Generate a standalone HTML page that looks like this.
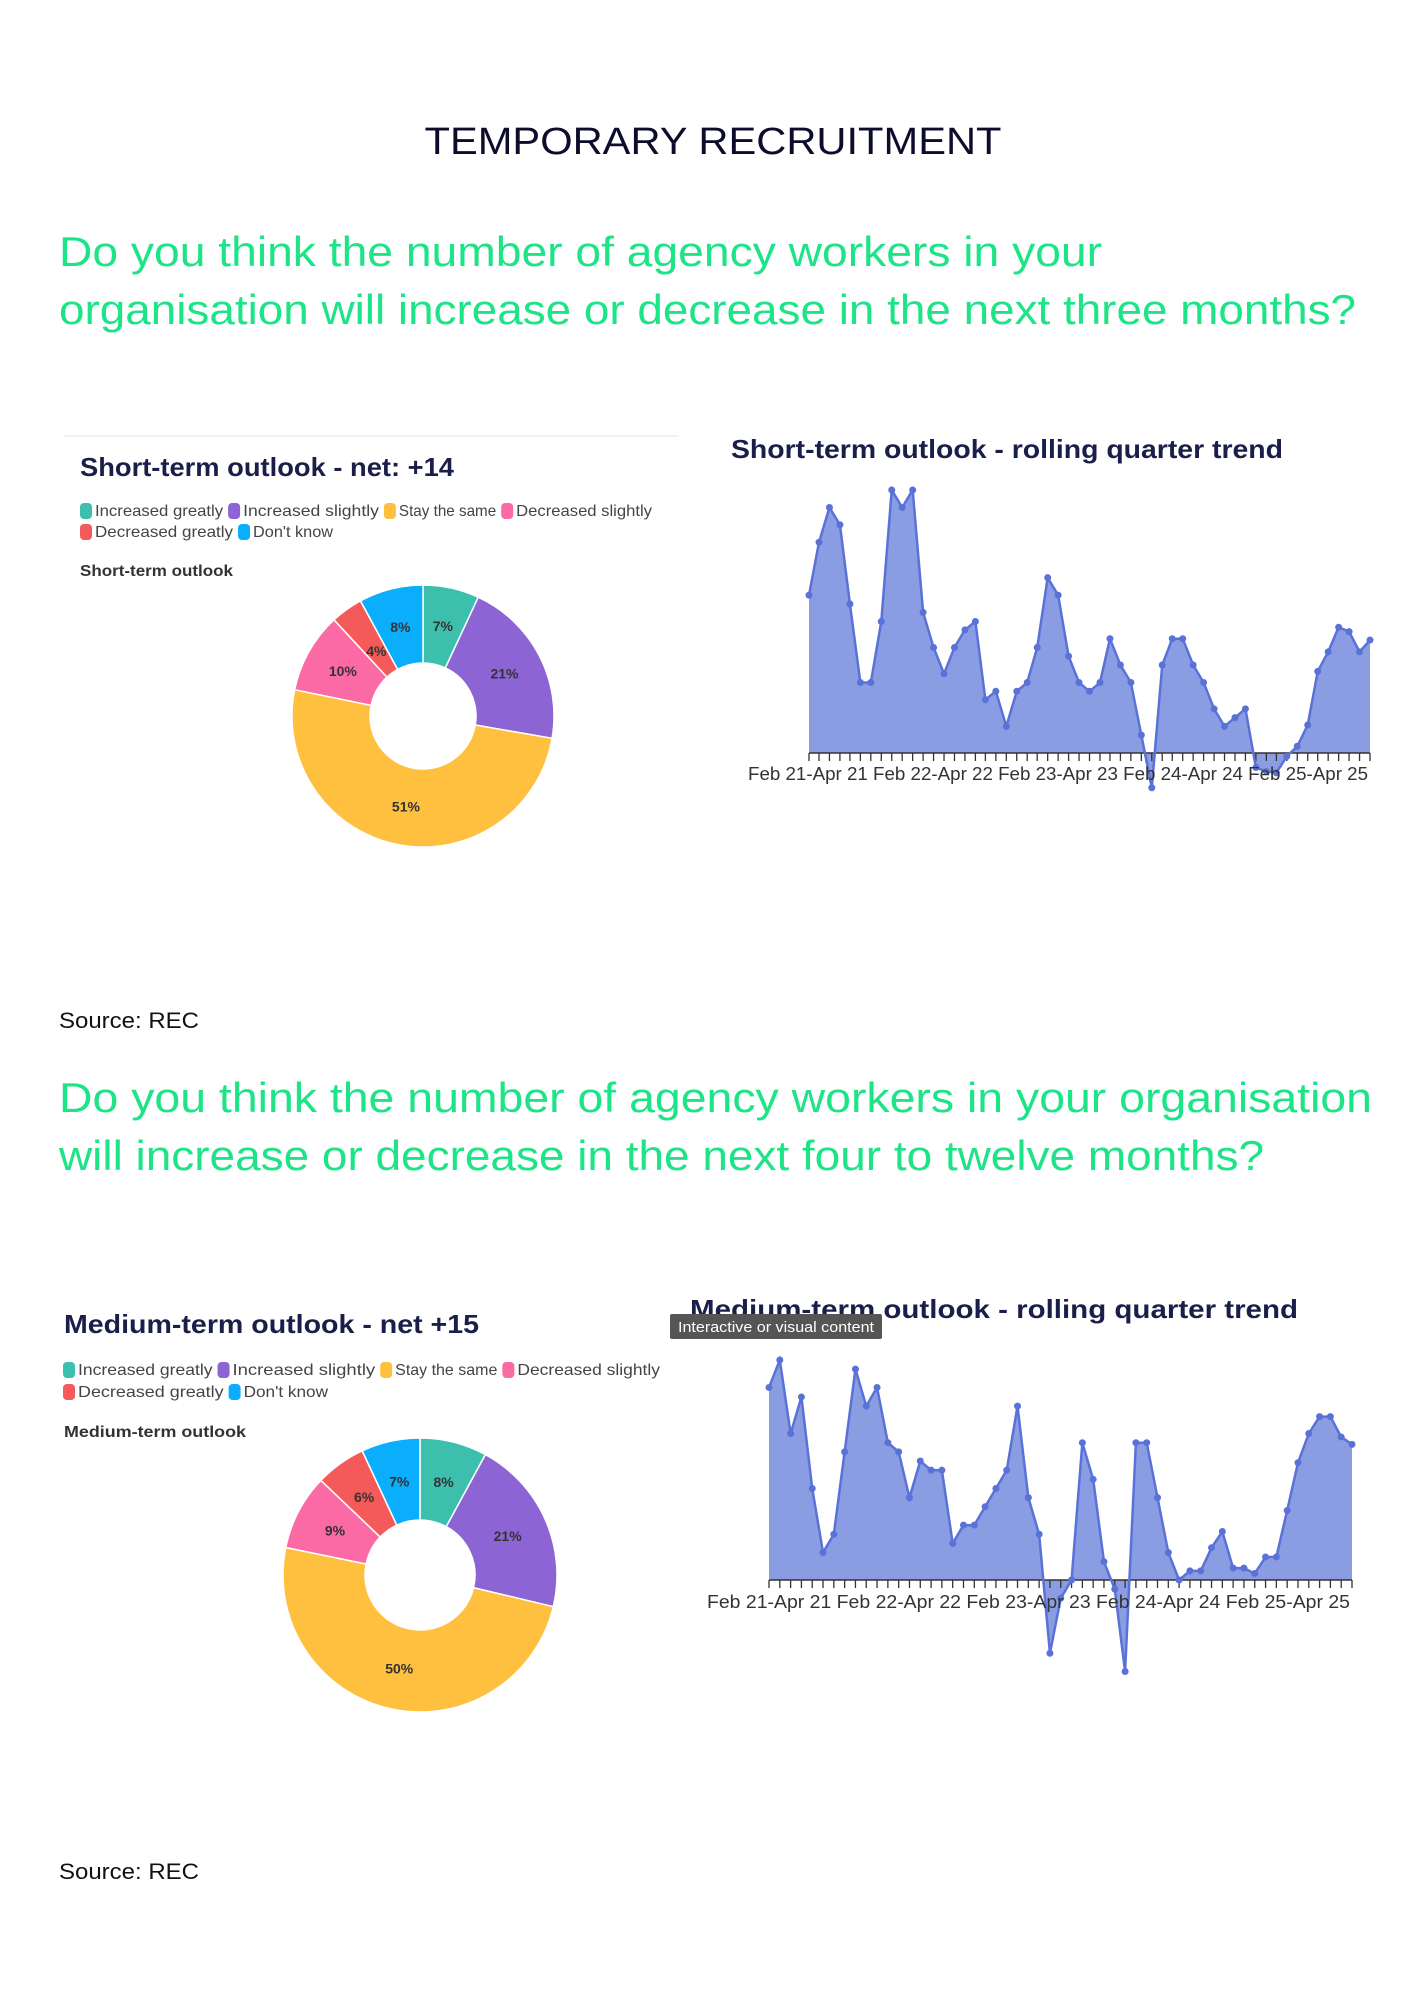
<!DOCTYPE html>
<html><head><meta charset="utf-8"><style>
html,body{margin:0;padding:0;background:#fff;}
svg{display:block;}
text{font-family:"Liberation Sans",sans-serif;}
</style></head><body>
<svg id="s" width="1414" height="2000" viewBox="0 0 1414 2000" xmlns="http://www.w3.org/2000/svg">
<rect width="1414" height="2000" fill="#fff"/>
<text x="713" y="154" text-anchor="middle" font-size="38" fill="#0d0d2b" textLength="577" lengthAdjust="spacingAndGlyphs">TEMPORARY RECRUITMENT</text>
<g fill="#1de486" font-size="42">
<text x="59" y="266" textLength="1043" lengthAdjust="spacingAndGlyphs">Do you think the number of agency workers in your</text>
<text x="59" y="324" textLength="1297" lengthAdjust="spacingAndGlyphs">organisation will increase or decrease in the next three months?</text>
<text x="59" y="1112" textLength="1313" lengthAdjust="spacingAndGlyphs">Do you think the number of agency workers in your organisation</text>
<text x="59" y="1170" textLength="1205" lengthAdjust="spacingAndGlyphs">will increase or decrease in the next four to twelve months?</text>
</g>
<g fill="#111" font-size="22">
<text x="59" y="1028" textLength="140" lengthAdjust="spacingAndGlyphs">Source: REC</text>
<text x="59" y="1879" textLength="140" lengthAdjust="spacingAndGlyphs">Source: REC</text>
</g>
<line x1="64" y1="436" x2="679" y2="436" stroke="#eee" stroke-width="1.5"/>
<g fill="#1a1f4a" font-weight="bold" font-size="26">
<text x="80" y="476" textLength="374" lengthAdjust="spacingAndGlyphs">Short-term outlook - net: +14</text>
<text x="731" y="458" textLength="552" lengthAdjust="spacingAndGlyphs">Short-term outlook - rolling quarter trend</text>
<text x="64" y="1333" textLength="415" lengthAdjust="spacingAndGlyphs">Medium-term outlook - net +15</text>
<text x="690" y="1318" textLength="608" lengthAdjust="spacingAndGlyphs">Medium-term outlook - rolling quarter trend</text>
</g>
<g fill="#333" font-weight="bold" font-size="16">
<text x="80" y="576" textLength="153" lengthAdjust="spacingAndGlyphs">Short-term outlook</text>
<text x="64" y="1437" textLength="182" lengthAdjust="spacingAndGlyphs">Medium-term outlook</text>
</g>
<g id="dyn"></g>
<rect x="670" y="1314" width="212" height="25" rx="2" fill="#555"/>
<text x="678" y="1332" font-size="15" fill="#fff" textLength="196" lengthAdjust="spacingAndGlyphs">Interactive or visual content</text>
</svg>
<script>
var NS="http://www.w3.org/2000/svg",g=document.getElementById("dyn");
function el(t,a,txt){var e=document.createElementNS(NS,t);for(var k in a)e.setAttribute(k,a[k]);if(txt!=null)e.textContent=txt;g.appendChild(e);return e;}
var cols=["#3dbfae","#8c64d4","#ffbf3f","#fb6aa4","#f55a5a","#0aaefc"];
var names=["Increased greatly","Increased slightly","Stay the same","Decreased slightly","Decreased greatly","Don't know"];
function legend(x0,y1,y2,w1,w2){
 // row1 items 0-3 spanning w1, row2 items 4-5 spanning w2
 var rows=[[0,1,2,3],[4,5]],ys=[y1,y2],ws=[w1,w2];
 rows.forEach(function(r,ri){
  var tot=0,lens=r.map(function(i){return names[i].length;});lens.forEach(function(l){tot+=l;});
  var avail=ws[ri]-r.length*17,x=x0;
  r.forEach(function(i,j){
   el("rect",{x:x,y:ys[ri]-13,width:12,height:16,rx:4,fill:cols[i]});
   var tw=avail*lens[j]/tot;
   el("text",{x:x+15,y:ys[ri],"font-size":16,fill:"#444",textLength:tw-3,lengthAdjust:"spacingAndGlyphs"},names[i]);
   x+=17+tw;
  });
 });
}
legend(80,516,537,577,258);
legend(63,1375,1397,602,270);
function donut(cx,cy,R,r,vals){
 var tot=0;vals.forEach(function(v){tot+=v;});var a=-Math.PI/2;
 vals.forEach(function(v,i){
  var b=a+v/tot*2*Math.PI,la=(b-a)>Math.PI?1:0;
  var p="M"+(cx+R*Math.cos(a))+" "+(cy+R*Math.sin(a))+" A"+R+" "+R+" 0 "+la+" 1 "+(cx+R*Math.cos(b))+" "+(cy+R*Math.sin(b))+
  " L"+(cx+r*Math.cos(b))+" "+(cy+r*Math.sin(b))+" A"+r+" "+r+" 0 "+la+" 0 "+(cx+r*Math.cos(a))+" "+(cy+r*Math.sin(a))+"Z";
  el("path",{d:p,fill:cols[i],stroke:"#fff","stroke-width":1.5});
  var m=(a+b)/2,rr=(R+r)/2+(v<5?-12:0);
  el("text",{x:cx+rr*Math.cos(m),y:cy+rr*Math.sin(m)+5,"text-anchor":"middle","font-size":14,"font-weight":"bold",fill:"#333"},v+"%");
  a=b;
 });
}
donut(423,716,131,53,[7,21,51,10,4,8]);
donut(420,1575,137,55,[8,21,50,9,6,7]);
function area(pts,zx0,zx1,ax0,ax1,zb,ab,sy,lx,lw,ly){
 var sx=(ax1-ax0)/(zx1-zx0);
 var P=pts.map(function(p){return[ax0+(p[0]-zx0)*sx,ab+(p[1]-zb)*sy];});
 var d="M"+P[0][0]+" "+ab;P.forEach(function(p){d+=" L"+p[0]+" "+p[1];});d+=" L"+P[P.length-1][0]+" "+ab+"Z";
 el("path",{d:d,fill:"#8a9de2"});
 el("line",{x1:P[0][0],y1:ab,x2:P[P.length-1][0],y2:ab,stroke:"#333","stroke-width":1.5});
 P.forEach(function(p){el("line",{x1:p[0],y1:ab,x2:p[0],y2:ab+8,stroke:"#333","stroke-width":1.3});});
 var l="M"+P.map(function(p){return p[0]+" "+p[1];}).join(" L");
 el("path",{d:l,fill:"none",stroke:"#5a72d8","stroke-width":2.5});
 P.forEach(function(p){el("circle",{cx:p[0],cy:p[1],r:3.5,fill:"#5a72d8"});});
 el("text",{x:lx,y:ly,"font-size":18,fill:"#333",textLength:lw,lengthAdjust:"spacingAndGlyphs"},"Feb 21-Apr 21 Feb 22-Apr 22 Feb 23-Apr 23 Feb 24-Apr 24 Feb 25-Apr 25");
}
var sp=[[212,577],[234,420],[257,317],[280,368],[302,603],[325,836],[348,836],[371,655],[394,265],[417,317],[440,265],[463,628],[486,732],[509,810],[532,732],[555,680],[578,655],[600,887],[623,862],[646,966],[669,862],[692,836],[714,732],[737,525],[760,577],[783,758],[806,836],[829,862],[852,836],[874,706],[897,784],[920,836],[943,992],[966,1148],[989,784],[1011,706],[1034,706],[1057,784],[1080,836],[1103,914],[1126,966],[1149,940],[1172,914],[1195,1088],[1218,1100],[1240,1104],[1263,1055],[1286,1025],[1309,962],[1331,803],[1354,745],[1377,672],[1400,685],[1423,745],[1446,710]];
area(sp,212,1446,809,1370,1045,753,(753-490)/780,748,620,780);
var mp=[[232,327],[254,246],[276,463],[298,355],[320,625],[342,814],[364,760],[386,517],[408,273],[430,382],[452,327],[474,490],[496,517],[518,652],[540,544],[562,571],[584,571],[606,787],[628,733],[650,733],[672,679],[694,625],[716,571],[738,382],[760,652],[782,760],[804,1111],[826,949],[848,895],[870,490],[892,598],[914,841],[936,922],[957,1165],[979,490],[1001,490],[1023,652],[1045,814],[1067,895],[1089,868],[1111,868],[1133,800],[1155,752],[1177,860],[1199,860],[1221,876],[1243,827],[1265,827],[1287,690],[1309,549],[1331,463],[1353,413],[1375,413],[1397,473],[1419,495]];
area(mp,232,1419,769,1352,895,1580,(1580-1360)/649,707,643,1608);
</script>
</body></html>
